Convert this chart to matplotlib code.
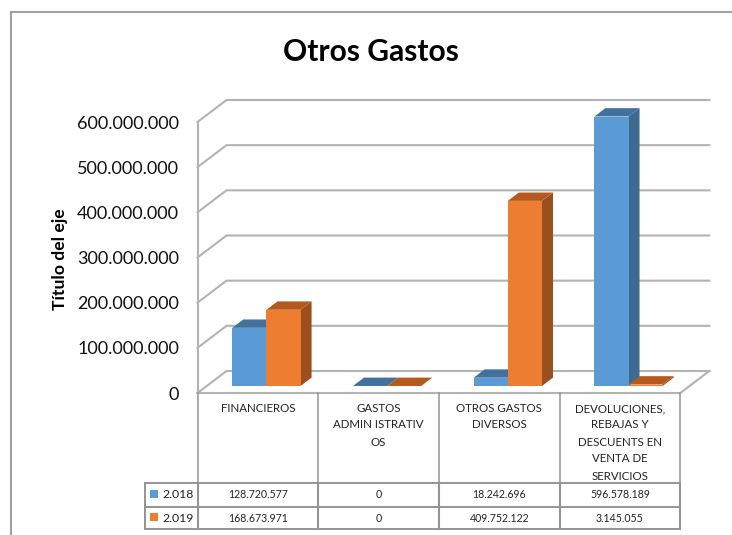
import matplotlib
matplotlib.use('Agg')
import matplotlib.pyplot as plt
from matplotlib.patches import Polygon, Rectangle

categories = ['FINANCIEROS', 'GASTOS\nADMIN ISTRATIV\nOS', 'OTROS GASTOS\nDIVERSOS',
              'DEVOLUCIONES,\nREBAJAS Y\nDESCUENTS EN\nVENTA DE\nSERVICIOS']
years = ['2.018', '2.019']
values_2018 = [128720577, 0, 18242696, 596578189]
values_2019 = [168673971, 0, 409752122, 3145055]
labels_2018 = ['128.720.577', '0', '18.242.696', '596.578.189']
labels_2019 = ['168.673.971', '0', '409.752.122', '3.145.055']
y_ticks = [0, 100000000, 200000000, 300000000, 400000000, 500000000, 600000000]
y_tick_labels = ['0', '100.000.000', '200.000.000', '300.000.000', '400.000.000', '500.000.000', '600.000.000']

plt.rcParams['font.family'] = ['Lato', 'DejaVu Sans']

W, H = 732, 535
X0, Y0 = 197.5, 393.0     # front corner of the floor
COL = 120.7               # pixels per category
PX_PER_VAL = 271.0 / 600000000
DX, DY = 29.0, 22.0       # depth of the box

blue = ['#5b9bd5', '#41719c', '#3d6a91']
orange = ['#ed7d31', '#b5591f', '#9c4f1e']
grid_col = '#b3b3b3'
line_col = '#949494'

fig = plt.figure(figsize=(W / 100, H / 100), dpi=100)

# chart axes: x in categories, y in money, covering the whole figure
ax = fig.add_axes([0, 0, 1, 1])
ax.set_xlim(-X0 / COL, (W - X0) / COL)
ax.set_ylim((Y0 - H) / PX_PER_VAL, Y0 / PX_PER_VAL)
ax.axis('off')

# overlay in pixels for the frame and the data table
px = fig.add_axes([0, 0, 1, 1])
px.set_xlim(0, W)
px.set_ylim(H, 0)
px.axis('off')
px.patch.set_alpha(0)


def pt(cat, val, depth):
    # shear a point backwards, depth is a fraction of the box depth
    return (cat + depth * DX / COL, val + depth * DY / PX_PER_VAL)


# frame, only left and top are in the crop
px.plot([10.5, 10.5, 732], [535, 11.5, 11.5], color='#a0a0a0', lw=1.5, solid_joinstyle='miter')

# gridlines and walls
for v in y_ticks:
    xs, ys = zip(pt(0, v, 0), pt(0, v, 1), pt(4, v, 1))
    ax.plot(xs, ys, color=grid_col, lw=1.5, solid_joinstyle='miter', zorder=1)
ax.plot([0, 0], [0, 600000000], color=grid_col, lw=1.5, zorder=1)
xs, ys = zip(pt(0, 0, 0), pt(4, 0, 0), pt(4, 0, 1))
ax.plot(xs, ys, color=grid_col, lw=1.5, solid_joinstyle='miter', zorder=1)

# bars
BAR_W = 0.283
BAR_D0, BAR_D1 = 0.32, 0.70
BAR_SHIFT = -0.006
series = [(values_2018, blue, -1), (values_2019, orange, 0)]
for vals, cols, off in series:
    for i, v in enumerate(vals):
        x0 = i + 0.5 + BAR_SHIFT + off * BAR_W
        x1 = x0 + BAR_W
        z = 3 + i + (off + 1) * 0.5
        ax.add_patch(Polygon([pt(x1, 0, BAR_D0), pt(x1, 0, BAR_D1), pt(x1, v, BAR_D1), pt(x1, v, BAR_D0)],
                             facecolor=cols[2], edgecolor='none', zorder=z))
        ax.add_patch(Polygon([pt(x0, v, BAR_D0), pt(x1, v, BAR_D0), pt(x1, v, BAR_D1), pt(x0, v, BAR_D1)],
                             facecolor=cols[1], edgecolor='none', zorder=z))
        ax.add_patch(Polygon([pt(x0, 0, BAR_D0), pt(x1, 0, BAR_D0), pt(x1, v, BAR_D0), pt(x0, v, BAR_D0)],
                             facecolor=cols[0], edgecolor='none', zorder=z))

# y tick labels
for v, lab in zip(y_ticks, y_tick_labels):
    ax.text(-18.5 / COL, v - 1.5 / PX_PER_VAL, lab, ha='right', va='center', fontsize=13, color='#111111')

px.text(60.5, 259, 'Título del eje', rotation=90, ha='center', va='center',
        fontsize=12.6, fontweight='bold', color='black')
px.text(370.5, 52, 'Otros Gastos', ha='center', va='center', fontsize=21.6, fontweight='bold', color='black')

# data table
row_y = [483, 507, 529]
col_x = [X0 + COL * i for i in range(5)]
for x in col_x:
    px.plot([x, x], [393, row_y[0]], color=line_col, lw=1.1)
    px.plot([x, x], [row_y[0], row_y[2]], color=line_col, lw=1.5)
for y in row_y:
    px.plot([145, col_x[-1]], [y, y], color=line_col, lw=1.4)
px.plot([145, 145], [row_y[0], row_y[2]], color=line_col, lw=1.4)

line_y = [409, 425, 442.5, 459, 476]
for x, cat in zip(col_x, categories):
    for y, part in zip(line_y, cat.split('\n')):
        px.text(x + COL / 2, y, part, ha='center', va='center', fontsize=8.3, color='#222222')

for row, (yr, labs, cols) in enumerate(zip(years, [labels_2018, labels_2019], [blue, orange])):
    yc = (row_y[row] + row_y[row + 1]) / 2
    px.add_patch(Rectangle((150, yc - 5), 8, 8, facecolor=cols[0], edgecolor='none'))
    px.text(162, yc, yr, ha='left', va='center', fontsize=8.8, color='#222222')
    for x, lab in zip(col_x, labs):
        px.text(x + COL / 2, yc, lab, ha='center', va='center', fontsize=7.6, color='#222222')

fig.savefig('out.png', dpi=100)
